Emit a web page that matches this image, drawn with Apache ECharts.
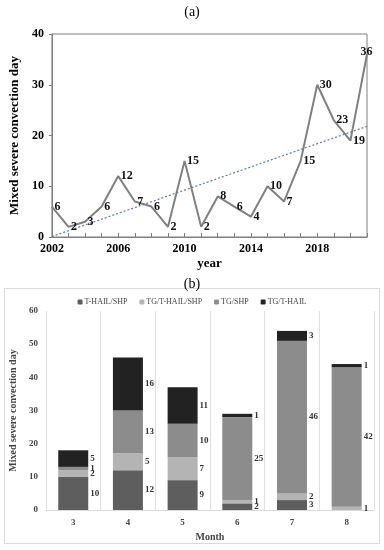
<!DOCTYPE html>
<html><head><meta charset="utf-8">
<script src="https://cdn.jsdelivr.net/npm/echarts@6/dist/echarts.min.js"></script>
<style>html,body{margin:0;padding:0;background:#fff}#c{width:384px;height:550px}</style>
</head><body><div id="c"></div>
<script>
// ---- Data (a) ----
const years = [2002,2003,2004,2005,2006,2007,2008,2009,2010,2011,2012,2013,2014,2015,2016,2017,2018,2019,2020,2021];
const mixedDays = [6,2,3,6,12,7,6,2,15,2,8,6,4,10,7,15,30,23,19,36];
// ---- Data (b) ----
const months = ['3','4','5','6','7','8'];
const seriesNames = ['T-HAIL/SHP','TG/T-HAIL/SHP','TG/SHP','TG/T-HAIL'];
const tHailShp   = [10,12,9,2,3,0];
const tgTHailShp = [2,5,7,1,2,1];
const tgShp      = [1,13,10,25,46,42];
const tgTHail    = [5,16,11,1,3,1];

const FONT = 'Liberation Serif';
const chart = echarts.init(document.getElementById('c'), null, {renderer:'canvas'});

// linear regression trend
const n = years.length;
const xs = years.map((y,i)=>i);
const mx = xs.reduce((a,b)=>a+b,0)/n, my = mixedDays.reduce((a,b)=>a+b,0)/n;
let sxy=0,sxx=0; xs.forEach((x,i)=>{sxy+=(x-mx)*(mixedDays[i]-my); sxx+=(x-mx)*(x-mx);});
const slope = sxy/sxx, icpt = my - slope*mx;
const trend = [[years[0], icpt], [years[n-1], icpt + slope*(n-1)]];

const labelPos = {19:[-6,-8]};
const lineData = years.map((y,i)=>{
  const d = {value:[y, mixedDays[i]]};
  if (labelPos[i]) d.label = {position: labelPos[i]};
  return d;
});

const barColors = ['#5e5e5e','#b4b4b4','#8c8c8c','#222222'];
const barVals = [tHailShp, tgTHailShp, tgShp, tgTHail];

const option = {
  animation:false,
  textStyle:{fontFamily:FONT},
  title:[
    {text:'(a)', left:'center', top:0, textStyle:{fontFamily:FONT, fontSize:14, fontWeight:'normal', color:'#000'}},
    {text:'(b)', left:'center', top:272, textStyle:{fontFamily:FONT, fontSize:14, fontWeight:'normal', color:'#000'}}
  ],
  graphic:[{type:'rect', shape:{x:4.5,y:288.5,width:375,height:255}, style:{fill:'none', stroke:'#d9d9d9', lineWidth:1}, z:-1}],
  legend:{
    top:293, left:'center', itemWidth:5, itemHeight:5, itemGap:12,
    textStyle:{fontFamily:FONT, fontSize:8, color:'#444', padding:[0,0,0,-3]},
    data:seriesNames
  },
  grid:[
    {left:49, right:17, top:34, bottom:313, show:true, borderColor:'#808080', borderWidth:1},
    {left:41, right:10, top:311, bottom:40}
  ],
  xAxis:[
    {gridIndex:0, type:'value', min:2002, max:2021, interval:1,
     name:'year', nameLocation:'middle', nameGap:20,
     nameTextStyle:{fontFamily:FONT, fontSize:13, fontWeight:'bold', color:'#000'},
     axisLine:{lineStyle:{color:'#808080'}}, axisTick:{inside:true, length:4, lineStyle:{color:'#808080'}},
     splitLine:{show:false},
     axisLabel:{fontFamily:FONT, fontSize:12, fontWeight:'bold', color:'#000', margin:6,
       formatter:v=>((v-2002)%4===0 && v<2021)?String(v):''}},
    {gridIndex:1, type:'category', data:months,
     name:'Month', nameLocation:'middle', nameGap:22,
     nameTextStyle:{fontFamily:FONT, fontSize:10, fontWeight:'bold', color:'#444'},
     axisLine:{lineStyle:{color:'#d9d9d9'}}, axisTick:{show:false},
     splitLine:{show:true, lineStyle:{color:'#e0e0e0'}},
     axisLabel:{fontFamily:FONT, fontSize:9, fontWeight:'bold', color:'#444', margin:8}}
  ],
  yAxis:[
    {gridIndex:0, type:'value', min:0, max:40, interval:10,
     name:'Mixed severe convection day', nameLocation:'middle', nameGap:27,
     nameTextStyle:{fontFamily:FONT, fontSize:13, fontWeight:'bold', color:'#000'},
     axisLine:{show:true, lineStyle:{color:'#808080'}}, axisTick:{show:true, length:3, lineStyle:{color:'#808080'}},
     splitLine:{show:false},
     axisLabel:{fontFamily:FONT, fontSize:12, fontWeight:'bold', color:'#000', margin:8}},
    {gridIndex:1, type:'value', min:0, max:60, interval:10,
     name:'Mixed severe convection day', nameLocation:'middle', nameGap:22,
     nameTextStyle:{fontFamily:FONT, fontSize:10, fontWeight:'bold', color:'#444'},
     axisLine:{show:false}, axisTick:{show:false}, splitLine:{show:false},
     axisLabel:{fontFamily:FONT, fontSize:9, fontWeight:'bold', color:'#444', margin:8}}
  ],
  series:[
    {type:'line', xAxisIndex:0, yAxisIndex:0, data:lineData, symbol:'circle', symbolSize:1, showSymbol:true,
     itemStyle:{color:'rgba(0,0,0,0)'},
     lineStyle:{color:'#808080', width:2},
     label:{show:true, position:'right', distance:2, fontFamily:FONT, fontSize:12, fontWeight:'bold', color:'#111'}},
    {type:'line', xAxisIndex:0, yAxisIndex:0, data:trend, symbol:'none', silent:true,
     lineStyle:{color:'#4f7fb0', width:1.2, type:[2,2]}},
    ...seriesNames.map((nm,k)=>({
      name:nm, type:'bar', stack:'m', xAxisIndex:1, yAxisIndex:1, barWidth:30,
      itemStyle:{color:barColors[k]},
      data:barVals[k],
      label:{show:true, position:'right', distance:2, fontFamily:FONT, fontSize:9, fontWeight:'bold', color:'#333',
             formatter:p=>p.value===0?'':String(p.value)}
    }))
  ]
};
chart.setOption(option);
</script></body></html>
